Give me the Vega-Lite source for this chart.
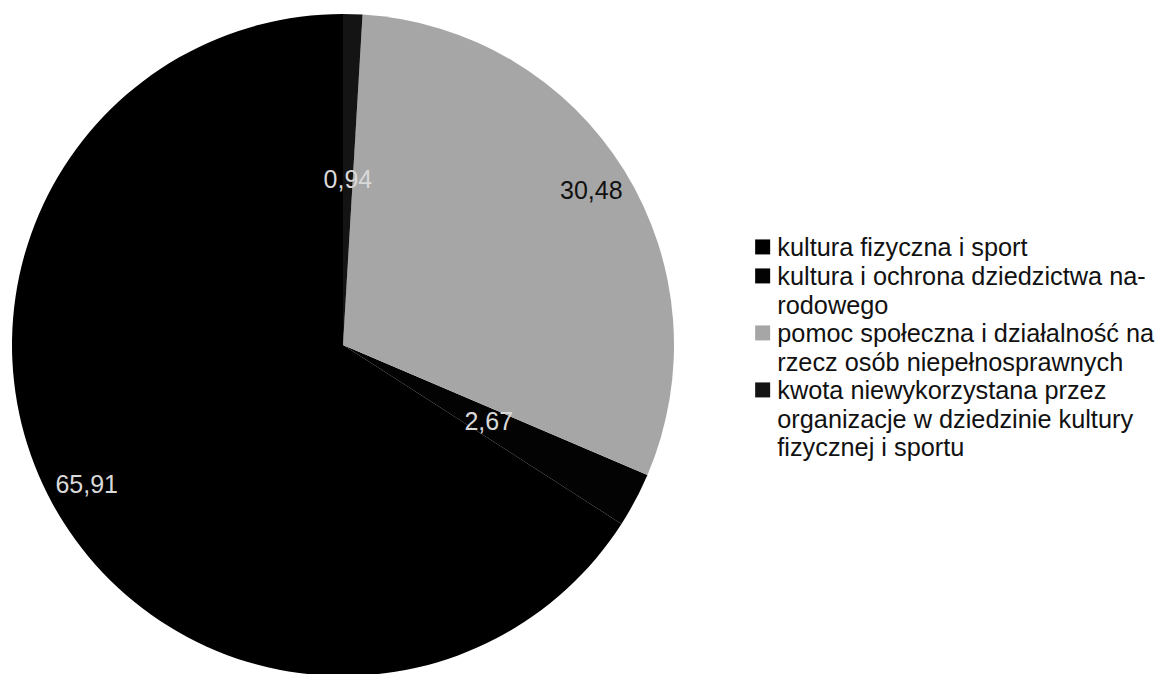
{
  "$schema": "https://vega.github.io/schema/vega-lite/v6.json",
  "width": 686,
  "height": 690,
  "padding": 0,
  "background": "white",
  "config": {
    "view": {"stroke": null},
    "locale": {"number": {"decimal": ",", "thousands": " ", "grouping": [3], "currency": ["", " zł"]}},
    "style": {"guide-label": {"lineHeight": 28.8}}
  },
  "data": {
    "values": [
      {"kategoria": "kultura fizyczna i sport", "udzial": 65.91, "nr": 1},
      {"kategoria": "kultura i ochrona dziedzictwa narodowego", "udzial": 2.67, "nr": 2},
      {"kategoria": "pomoc społeczna i działalność na rzecz osób niepełnosprawnych", "udzial": 30.48, "nr": 3},
      {"kategoria": "kwota niewykorzystana przez organizacje w dziedzinie kultury fizycznej i sportu", "udzial": 0.94, "nr": 4}
    ]
  },
  "encoding": {
    "theta": {"field": "udzial", "type": "quantitative", "stack": true},
    "order": {"field": "nr", "type": "quantitative", "sort": "descending"}
  },
  "layer": [
    {
      "mark": {"type": "arc", "radius": 331},
      "encoding": {
        "color": {
          "field": "kategoria",
          "type": "nominal",
          "scale": {
            "domain": [
              "kultura fizyczna i sport",
              "kultura i ochrona dziedzictwa narodowego",
              "pomoc społeczna i działalność na rzecz osób niepełnosprawnych",
              "kwota niewykorzystana przez organizacje w dziedzinie kultury fizycznej i sportu"
            ],
            "range": ["#000000", "#030303", "#a6a6a6", "#141414"]
          },
          "legend": {
            "orient": "none",
            "legendX": 750,
            "legendY": 236,
            "title": null,
            "padding": 0,
            "symbolType": "M-1,-1.23H1V0.77H-1Z",
            "symbolSize": 225,
            "symbolStrokeWidth": 0,
            "labelFont": "Liberation Sans",
            "labelFontSize": 25.3,
            "labelColor": "#111111",
            "labelLimit": 600,
            "labelOffset": 2,
            "rowPadding": 2,
            "labelBaseline": "top",
            "encode": {"labels": {"update": {"dy": {"value": -12.75}}}},
            "labelExpr": "datum.label == 'kultura i ochrona dziedzictwa narodowego' ? ['kultura i ochrona dziedzictwa na-', 'rodowego'] : datum.label == 'pomoc społeczna i działalność na rzecz osób niepełnosprawnych' ? ['pomoc społeczna i działalność na', 'rzecz osób niepełnosprawnych'] : datum.label == 'kwota niewykorzystana przez organizacje w dziedzinie kultury fizycznej i sportu' ? ['kwota niewykorzystana przez', 'organizacje w dziedzinie kultury', 'fizycznej i sportu'] : datum.label"
          }
        }
      }
    },
    {
      "mark": {"type": "text", "radius": 165, "font": "Liberation Sans", "fontSize": 25},
      "encoding": {
        "text": {"condition": {"test": "datum.nr == 2 || datum.nr == 4", "field": "udzial", "type": "quantitative", "format": ".2f"}, "value": ""},
        "color": {"value": "#d9d9d9"}
      }
    },
    {
      "mark": {"type": "text", "radius": 292, "font": "Liberation Sans", "fontSize": 25},
      "encoding": {
        "text": {"condition": {"test": "datum.nr == 1 || datum.nr == 3", "field": "udzial", "type": "quantitative", "format": ".2f"}, "value": ""},
        "color": {"condition": {"test": "datum.nr == 3", "value": "#111111"}, "value": "#d9d9d9"}
      }
    }
  ]
}
